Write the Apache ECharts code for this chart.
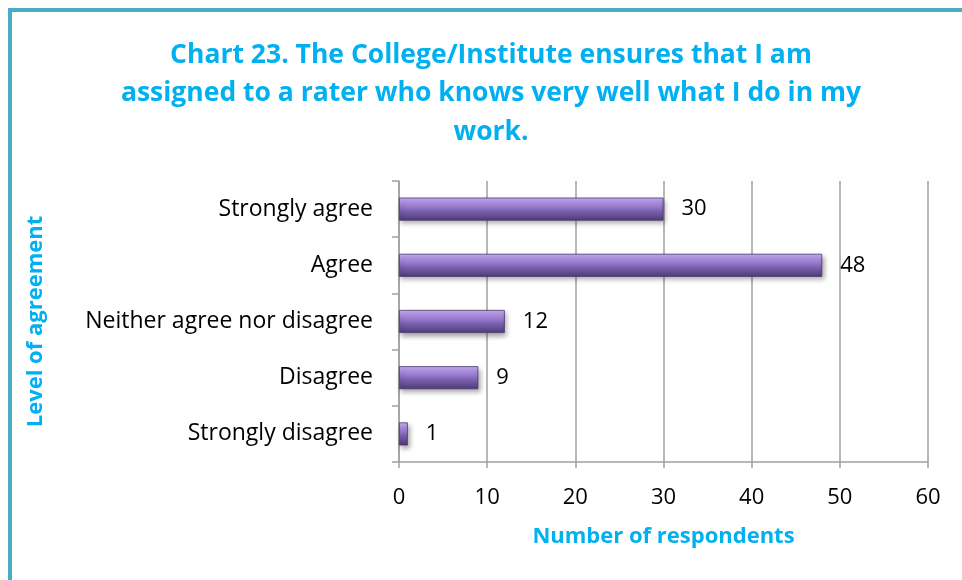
<!DOCTYPE html>
<html><head><meta charset="utf-8">
<script src="https://cdn.jsdelivr.net/npm/echarts@6/dist/echarts.min.js"></script>
<style>html,body{margin:0;padding:0;background:#fff}#c{width:962px;height:580px}</style>
</head><body><div id="c"></div>
<script>
const categories = ['Strongly disagree','Disagree','Neither agree nor disagree','Agree','Strongly agree'];
const values = [1, 9, 12, 48, 30];
const xTicks = [0,10,20,30,40,50,60];
const titleText = 'Chart 23. The College/Institute ensures that I am\nassigned to a rater who knows very well what I do in my\nwork.';
const FONT = 'Open Sans';
const chart = echarts.init(document.getElementById('c'));
chart.setOption({
  animation:false,
  title:{text:titleText,left:486,top:31,textAlign:'center',
    textStyle:{fontFamily:FONT,fontWeight:'bold',fontSize:26.5,color:'#00b0f0',lineHeight:38.5}},
  graphic:[
    {type:'line',shape:{x1:10,y1:10,x2:10,y2:580},style:{stroke:'#4bacc6',lineWidth:4}},
    {type:'line',shape:{x1:8,y1:10,x2:962,y2:10},style:{stroke:'#4bacc6',lineWidth:4}}
  ],
  grid:{left:399,right:34,top:181,bottom:118},
  xAxis:{type:'value',min:0,max:60,interval:10,
    name:'Number of respondents',nameLocation:'middle',nameGap:64,
    nameTextStyle:{fontFamily:FONT,fontWeight:'bold',fontSize:22,color:'#00b0f0'},
    axisLine:{show:true,lineStyle:{color:'#a0a0a0',width:1.5}},
    axisTick:{show:true,length:6,lineStyle:{color:'#a0a0a0',width:1.5}},
    axisLabel:{fontFamily:FONT,fontSize:22,color:'#000',margin:25},
    splitLine:{show:true,lineStyle:{color:'#a0a0a0',width:1.5}}},
  yAxis:{type:'category',data:categories,
    name:'Level of agreement',nameLocation:'middle',nameGap:352,nameRotate:90,
    nameTextStyle:{fontFamily:FONT,fontWeight:'bold',fontSize:22,color:'#00b0f0'},
    axisLine:{show:true,lineStyle:{color:'#a0a0a0',width:1.5}},
    axisTick:{show:true,length:7,lineStyle:{color:'#a0a0a0',width:1.5}},
    axisLabel:{fontFamily:FONT,fontSize:23,color:'#000',margin:26}},
  series:[{type:'bar',data:values,barWidth:23,
    itemStyle:{color:new echarts.graphic.LinearGradient(0,0,0,1,[
      {offset:0,color:'#c9b0f5'},{offset:0.3,color:'#a486dc'},{offset:0.6,color:'#7a5fae'},{offset:1,color:'#4f3a78'}]),
      borderColor:'#4a3670',borderWidth:0.8,
      shadowColor:'rgba(0,0,0,0.35)',shadowBlur:5,shadowOffsetX:2,shadowOffsetY:3},
    label:{show:true,position:'right',distance:18,fontFamily:FONT,fontSize:22,color:'#000'}}]
});
</script></body></html>
